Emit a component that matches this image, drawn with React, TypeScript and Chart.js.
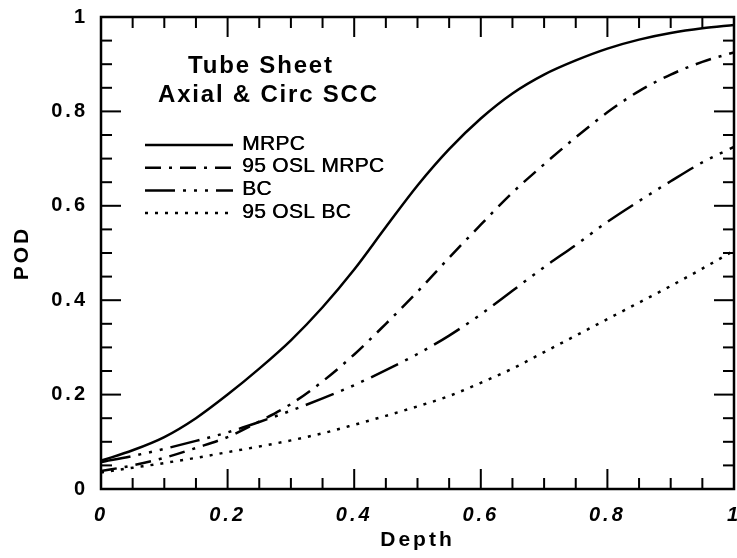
import React, { useEffect, useRef } from 'react';
import { Chart, registerables } from 'chart.js';

Chart.register(...registerables);

// ---- data ----
const depth = [0, 0.05, 0.1, 0.15, 0.2, 0.25, 0.3, 0.35, 0.4, 0.45, 0.5, 0.55, 0.6, 0.65, 0.7, 0.75, 0.8, 0.85, 0.9, 0.95, 1.0];
const mrpc = [0.06, 0.082, 0.11, 0.15, 0.2, 0.255, 0.315, 0.385, 0.465, 0.555, 0.643, 0.72, 0.785, 0.838, 0.878, 0.908, 0.933, 0.952, 0.966, 0.976, 0.983];
const oslMrpc = [0.038, 0.05, 0.066, 0.087, 0.11, 0.143, 0.18, 0.228, 0.285, 0.35, 0.418, 0.49, 0.56, 0.628, 0.688, 0.745, 0.798, 0.843, 0.878, 0.905, 0.925];
const bc = [0.057, 0.07, 0.085, 0.102, 0.12, 0.142, 0.166, 0.192, 0.22, 0.252, 0.286, 0.325, 0.37, 0.42, 0.47, 0.517, 0.566, 0.61, 0.652, 0.692, 0.725];
const oslBc = [0.035, 0.045, 0.055, 0.066, 0.078, 0.09, 0.103, 0.118, 0.136, 0.155, 0.175, 0.197, 0.225, 0.255, 0.29, 0.325, 0.36, 0.395, 0.43, 0.467, 0.505];

const seriesLabels = ['MRPC', '95 OSL MRPC', 'BC', '95 OSL BC'];
const tickValues = [0, 0.2, 0.4, 0.6, 0.8, 1];
const tickLabels = ['0', '0.2', '0.4', '0.6', '0.8', '1'];
const minorStep = 0.05;
const titleLines = ['Tube Sheet', 'Axial & Circ SCC'];
const xTitle = 'Depth';
const yTitle = 'POD';

const FONT = '"Liberation Sans", Arial, Helvetica, sans-serif';

const dashes = [[], [16, 8, 3, 8], [30, 8, 3, 8, 3, 8, 3, 8], [3, 7]];

const spacingPlugin = {
  id: 'spacing',
  beforeDraw(chart: any) {
    chart.ctx.letterSpacing = '3px';
  },
  afterDraw(chart: any) {
    chart.ctx.letterSpacing = '0px';
  },
};

function drawFitted(ctx: any, text: string, x: number, y: number, width: number) {
  ctx.letterSpacing = '0px';
  const w = ctx.measureText(text).width;
  const sp = text.length > 1 ? (width - w) / (text.length - 1) : 0;
  ctx.letterSpacing = sp.toFixed(2) + 'px';
  ctx.fillText(text, x, y);
  ctx.letterSpacing = '0px';
}

const decorPlugin = {
  id: 'decor',
  afterDatasetsDraw(chart: any) {
    const ctx = chart.ctx;
    const a = chart.chartArea;
    ctx.save();
    ctx.setLineDash([]);
    ctx.fillStyle = '#000';
    ctx.strokeStyle = '#000';
    ctx.lineWidth = 2.5;
    ctx.strokeRect(a.left, a.top, a.right - a.left, a.bottom - a.top);

    // title
    ctx.textAlign = 'left';
    ctx.textBaseline = 'alphabetic';
    ctx.font = `bold 24px ${FONT}`;
    drawFitted(ctx, titleLines[0], a.left + 87, a.top + 56, 144);
    drawFitted(ctx, titleLines[1], a.left + 57, a.top + 85, 219);

    // legend
    ctx.font = `21px ${FONT}`;
    ctx.textBaseline = 'middle';
    const ds = chart.data.datasets;
    for (let i = 0; i < ds.length; i++) {
      const yy = a.top + 128 + i * 22.7;
      ctx.lineWidth = 2.5;
      ctx.setLineDash(ds[i].borderDash || []);
      ctx.beginPath();
      ctx.moveTo(a.left + 44, yy);
      ctx.lineTo(a.left + 132, yy);
      ctx.stroke();
      ctx.letterSpacing = '0.3px';
      ctx.fillText(ds[i].label, a.left + 141, yy - 1);
      ctx.fillText(ds[i].label, a.left + 141.5, yy - 1);
      ctx.letterSpacing = '0px';
    }
    ctx.setLineDash([]);
    ctx.restore();
  },
};

const innerTicksPlugin = {
  id: 'innerTicks',
  afterDraw(chart: any) {
    const ctx = chart.ctx;
    const a = chart.chartArea;
    const W = a.right - a.left;
    const H = a.bottom - a.top;
    ctx.save();
    ctx.setLineDash([]);
    ctx.globalAlpha = 1;
    ctx.globalCompositeOperation = 'source-over';
    ctx.fillStyle = '#000';
    const n = Math.round(1 / minorStep);
    for (let k = 1; k < n; k++) {
      const frac = k / n;
      const len = k % 4 === 0 ? 20 : 11;
      const px = a.left + W * frac;
      const py = a.bottom - H * frac;
      ctx.fillRect(px - 1, a.bottom - len, 2, len);
      ctx.fillRect(px - 1, a.top, 2, len);
      ctx.fillRect(a.left, py - 1, len, 2);
      ctx.fillRect(a.right - len, py - 1, len, 2);
    }
    ctx.restore();
  },
};

export default function App() {
  const ref = useRef<HTMLCanvasElement | null>(null);

  useEffect(() => {
    document.body.style.margin = '0';
    const canvas = ref.current;
    if (!canvas) return;
    const series = [mrpc, oslMrpc, bc, oslBc];
    const chart = new Chart(canvas, {
      type: 'line',
      data: {
        datasets: series.map((s, i) => ({
          label: seriesLabels[i],
          data: depth.map((d, k) => ({ x: d, y: s[k] })),
          borderColor: '#000',
          borderWidth: 2.5,
          borderDash: dashes[i],
          pointRadius: 0,
          fill: false,
          cubicInterpolationMode: 'monotone' as const,
        })),
      },
      options: {
        animation: false,
        responsive: true,
        maintainAspectRatio: false,
        devicePixelRatio: 1,
        layout: { padding: { top: 17, right: 3, left: 0, bottom: 0 } },
        plugins: { legend: { display: false }, tooltip: { enabled: false } },
        scales: {
          x: {
            type: 'linear',
            min: 0,
            max: 1,
            grid: { display: false, drawTicks: false },
            border: { display: false },
            afterBuildTicks: (s: any) => {
              s.ticks = tickValues.map((v) => ({ value: v }));
            },
            afterFit: (s: any) => {
              s.height = 69;
              s.paddingLeft = 0;
              s.paddingRight = 0;
            },
            ticks: {
              padding: 14,
              color: '#000',
              maxRotation: 0,
              autoSkip: false,
              font: { family: FONT, size: 20, weight: 'bold', style: 'italic' },
              callback: (v: any) => tickLabels[tickValues.indexOf(Math.round(Number(v) * 10) / 10)] ?? '',
            },
            title: {
              display: true,
              text: xTitle,
              color: '#000',
              font: { family: FONT, size: 21, weight: 'bold', lineHeight: 1.2 },
              padding: { top: 0, bottom: 5 },
            },
          },
          y: {
            type: 'linear',
            min: 0,
            max: 1,
            grid: { display: false, drawTicks: false },
            border: { display: false },
            afterBuildTicks: (s: any) => {
              s.ticks = tickValues.map((v) => ({ value: v }));
            },
            afterFit: (s: any) => {
              s.width = 101;
              s.paddingTop = 0;
              s.paddingBottom = 0;
            },
            ticks: {
              padding: 13,
              color: '#000',
              autoSkip: false,
              font: { family: FONT, size: 20, weight: 'bold' },
              callback: (v: any) => tickLabels[tickValues.indexOf(Math.round(Number(v) * 10) / 10)] ?? '',
            },
            title: {
              display: true,
              text: yTitle,
              color: '#000',
              font: { family: FONT, size: 21, weight: 'bold', lineHeight: 1.2 },
              padding: { top: 10, bottom: 0 },
            },
          },
        },
      },
      plugins: [spacingPlugin, decorPlugin, innerTicksPlugin],
    });
    return () => chart.destroy();
  }, []);

  return (
    <div style={{ width: 737, height: 558, position: 'relative', background: '#fff' }}>
      <canvas ref={ref} />
    </div>
  );
}
